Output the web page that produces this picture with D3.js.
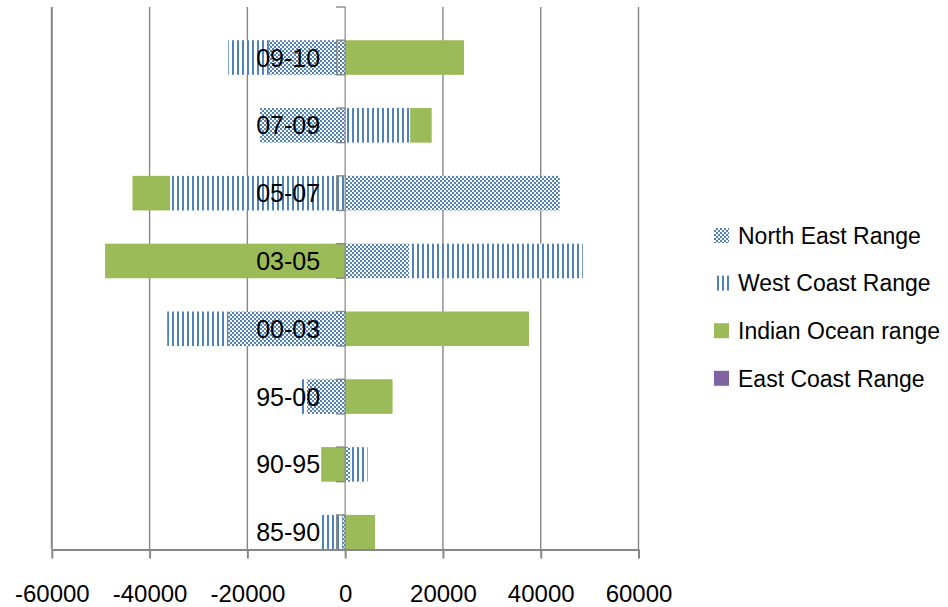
<!DOCTYPE html>
<html><head><meta charset="utf-8">
<script src="https://cdn.jsdelivr.net/npm/d3@7"></script>
<style>body{margin:0;background:#fff}svg{display:block}</style>
</head><body>
<svg id="chart" width="948" height="607"></svg>
<script>
// ---- data ----
const categories = ["85-90","90-95","95-00","00-03","03-05","05-07","07-09","09-10"];
const northEast   = [-500, 1100, -7800, -23900, 13100, 43900, -17400, -15600];
const westCoast   = [-4800, 3500, -1300, -12500, 35500, -35800, 13300, -8300];
const indianOcean = [6100, -4900, 9700, 37600, -49100, -7700, 4400, 24300];
const eastCoast   = [0, 0, 0, 0, 0, 0, 0, 0];
const seriesNames = ["North East Range","West Coast Range","Indian Ocean range","East Coast Range"];
const xTicks = [-60000,-40000,-20000,0,20000,40000,60000];
const closedBracketCats = ["09-10","05-07","85-90"];

// ---- setup ----
const svg = d3.select("#chart");
const plot = {left: 51.8, right: 638.5, top: 7, bottom: 549.5};
const FONT = "'Liberation Sans', Arial, sans-serif";
const grid = "#878787";
const blue = "#4F81BD";

const defs = svg.append("defs");
const pNE = defs.append("pattern").attr("id","ne").attr("patternUnits","userSpaceOnUse")
  .attr("width",4).attr("height",4).attr("shape-rendering","crispEdges");
pNE.append("rect").attr("width",4).attr("height",4).attr("fill","#fff");
pNE.append("rect").attr("x",0).attr("y",0).attr("width",2).attr("height",2).attr("fill",blue);
pNE.append("rect").attr("x",2).attr("y",2).attr("width",2).attr("height",2).attr("fill",blue);
const pWC = defs.append("pattern").attr("id","wc").attr("patternUnits","userSpaceOnUse")
  .attr("width",5).attr("height",5).attr("shape-rendering","crispEdges");
pWC.append("rect").attr("width",5).attr("height",5).attr("fill","#fff");
pWC.append("rect").attr("x",2).attr("y",0).attr("width",1.5).attr("height",5).attr("fill",blue);

const fills = ["url(#ne)","url(#wc)","#9BBB59","#8064A2"];

const table = categories.map((c,i)=>({cat:c, s0:northEast[i], s1:westCoast[i], s2:indianOcean[i], s3:eastCoast[i]}));
const keys = ["s0","s1","s2","s3"];
const stacked = d3.stack().keys(keys).offset(d3.stackOffsetDiverging)(table);

const x = d3.scaleLinear().domain([-60000,60000]).range([plot.left, plot.right]);
const y = d3.scaleBand().domain(categories.slice().reverse()).range([plot.top, plot.bottom]).padding(0);
const bw = y.bandwidth();
const barTop = c => y(c) + bw*0.49;
const barH = bw*0.51;
const x0 = x(0);

// gridlines
svg.append("g").selectAll("line").data(xTicks.filter(d=>d!==0)).join("line")
  .attr("x1",d=>x(d)).attr("x2",d=>x(d)).attr("y1",plot.top).attr("y2",plot.bottom)
  .attr("stroke",grid).attr("stroke-width",d=>d===-60000?2:1.4);

// bars
const gBars = svg.append("g");
stacked.forEach((s,si)=>{
  gBars.append("g").selectAll("rect").data(s).join("rect")
    .attr("x",d=>x(Math.min(d[0],d[1])))
    .attr("width",d=>Math.abs(x(d[1])-x(d[0])))
    .attr("y",d=>barTop(d.data.cat))
    .attr("height",barH)
    .attr("fill",fills[si]);
});

// zero (category) axis
svg.append("line").attr("x1",x0).attr("x2",x0).attr("y1",plot.top).attr("y2",plot.bottom)
  .attr("stroke",grid).attr("stroke-width",1.2);
const gTk = svg.append("g").attr("stroke",grid).attr("stroke-width",1.4);
gTk.append("line").attr("x1",x0-9).attr("x2",x0).attr("y1",plot.top).attr("y2",plot.top);
categories.forEach(c=>{
  const t = barTop(c), b = t + barH;
  gTk.append("line").attr("x1",x0-9).attr("x2",x0).attr("y1",t).attr("y2",t);
  gTk.append("line").attr("x1",x0-9).attr("x2",x0).attr("y1",b).attr("y2",b);
  if (closedBracketCats.includes(c))
    gTk.append("line").attr("x1",x0-8.5).attr("x2",x0-8.5).attr("y1",t).attr("y2",b);
});

// category labels
svg.append("g").selectAll("text").data(categories).join("text")
  .attr("x",x0-25).attr("y",c=>barTop(c)+barH/2).attr("dy","0.36em")
  .attr("text-anchor","end").attr("font-family",FONT).attr("font-size",25).attr("fill","#000")
  .text(c=>c);

// bottom value axis
const ax = svg.append("g").attr("transform",`translate(0,${plot.bottom})`)
  .call(d3.axisBottom(x).tickValues(xTicks).tickSize(9).tickSizeOuter(0).tickFormat(d=>String(d)));
ax.select(".domain").attr("stroke",grid).attr("stroke-width",2);
ax.selectAll(".tick line").attr("stroke",grid).attr("stroke-width",2);
ax.selectAll(".tick text").attr("y",52.5).attr("dy",0).attr("font-family",FONT)
  .attr("font-size",24).attr("fill","#000");

// legend
const lg = svg.append("g");
seriesNames.forEach((n,i)=>{
  const cy = 235.5 + i*47.6;
  lg.append("rect").attr("x",714).attr("y",cy-7.5).attr("width",15).attr("height",15).attr("fill",fills[i]);
  lg.append("text").attr("x",738).attr("y",cy).attr("dy","0.36em").attr("font-family",FONT)
    .attr("font-size",23).attr("fill","#000").text(n);
});
</script>
</body></html>
